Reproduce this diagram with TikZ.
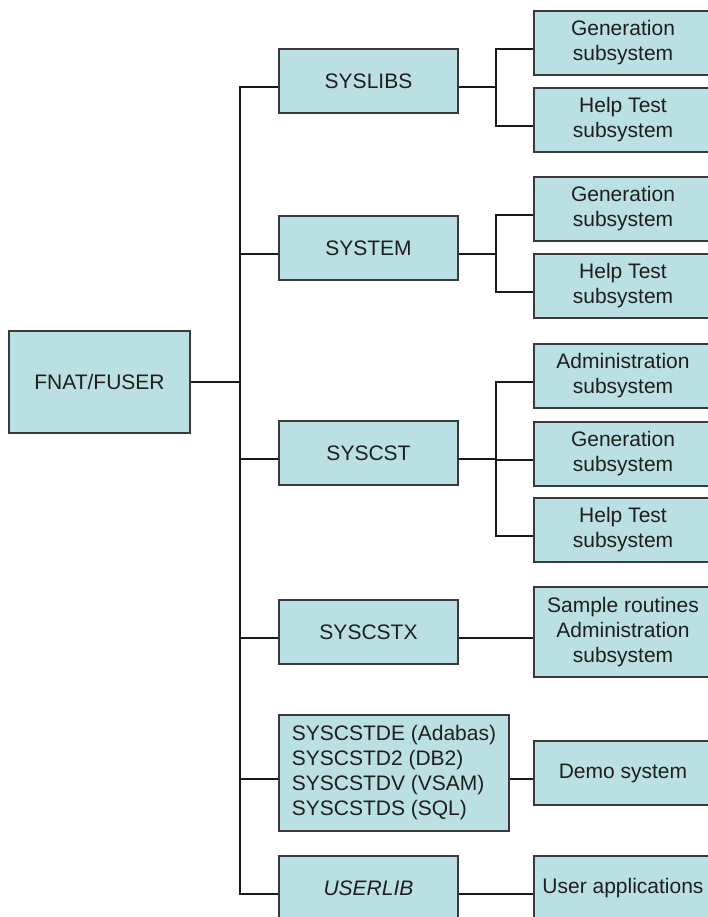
\documentclass[tikz,border=0pt]{standalone}
\usepackage{fontspec}
\setmainfont{Liberation Sans}
\usetikzlibrary{calc}
\definecolor{boxfill}{RGB}{187,224,227}
\definecolor{boxline}{RGB}{58,58,58}
\definecolor{textcol}{RGB}{30,30,30}
\begin{document}
\begin{tikzpicture}[x=1pt,y=-1pt,
  box/.style={draw=boxline,fill=boxfill,line width=1.5pt,text=textcol,
    font=\fontsize{21}{25}\selectfont,align=center,inner sep=0pt,
    minimum width=179,minimum height=64},
  rbox/.style={box,minimum width=178},
  link/.style={draw=black!90,line width=1.3pt}]
\useasboundingbox (0,0) rectangle (708,917);

% root
\node[box,minimum width=181,minimum height=102] (fnat) at (99.5,382) {FNAT/FUSER};

% libraries
\node[box] (syslibs) at (368.5,81) {SYSLIBS};
\node[box] (system)  at (368.5,248) {SYSTEM};
\node[box] (syscst)  at (368.5,453) {SYSCST};
\node[box] (syscstx) at (368.5,632) {SYSCSTX};
\node[box,minimum width=230,minimum height=116,align=left] (syscstd) at (394,773)
  {SYSCSTDE (Adabas)\\SYSCSTD2 (DB2)\\SYSCSTDV (VSAM)\\SYSCSTDS (SQL)};
\node[box] (userlib) at (368.5,888) {\itshape USERLIB};

% contents
\node[rbox] (gen1)   at (623,43)  {Generation\\subsystem};
\node[rbox] (help1)  at (623,120) {Help Test\\subsystem};
\node[rbox] (gen2)   at (623,209) {Generation\\subsystem};
\node[rbox] (help2)  at (623,286) {Help Test\\subsystem};
\node[rbox] (adm3)   at (623,376) {Administration\\subsystem};
\node[rbox] (gen3)   at (623,454) {Generation\\subsystem};
\node[rbox] (help3)  at (623,530) {Help Test\\subsystem};
\node[rbox,minimum height=90] (sample) at (623,632) {Sample routines\\Administration\\subsystem};
\node[rbox] (demo)   at (623,773) {Demo system};
\node[rbox] (userapp) at (623,888) {User applications};

% connection points, slightly below the box middles
\foreach \n in {syslibs,system,syscst,syscstx,syscstd,userlib,
                gen1,help1,gen2,help2,adm3,gen3,help3,sample,demo,userapp}{
  \coordinate (\n-in)  at ($(\n.west)+(0,6)$);
  \coordinate (\n-out) at ($(\n.east)+(0,6)$);
}
\coordinate (tk) at (240,0);
\coordinate (sx) at (496,0);

% main trunk
\draw[link] (fnat.east) -- (fnat.east -| tk);
\draw[link] (syslibs-in) -- (syslibs-in -| tk) -- (userlib-in -| tk) -- (userlib-in);
\foreach \n in {system,syscst,syscstx,syscstd}
  \draw[link] (\n-in) -- (\n-in -| tk);

% branches
\draw[link] (syslibs-out) -- (syslibs-out -| sx);
\draw[link] (gen1-in) -- (gen1-in -| sx) -- (help1-in -| sx) -- (help1-in);
\draw[link] (system-out) -- (system-out -| sx);
\draw[link] (gen2-in) -- (gen2-in -| sx) -- (help2-in -| sx) -- (help2-in);
\draw[link] (syscst-out) -- (syscst-out -| sx);
\draw[link] (adm3-in) -- (adm3-in -| sx) -- (help3-in -| sx) -- (help3-in);
\draw[link] (gen3-in -| sx) -- (gen3-in);
\draw[link] (syscstx-out) -- (sample-in);
\draw[link] (syscstd-out) -- (demo-in);
\draw[link] (userlib-out) -- (userapp-in);
\end{tikzpicture}
\end{document}
